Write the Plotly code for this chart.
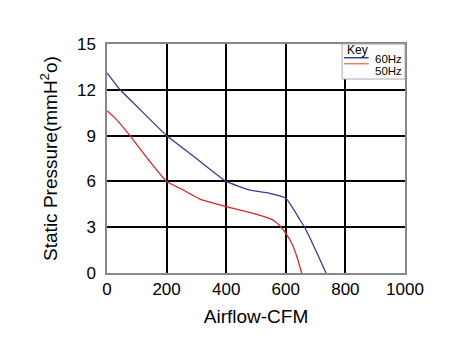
import plotly.graph_objects as go

x60 = [0, 44, 100, 200, 300, 400, 480, 536, 600, 648, 664, 700, 735]
y60 = [13.1, 12.0, 10.92, 9.0, 7.5, 6.0, 5.43, 5.26, 4.89, 3.47, 2.96, 1.5, 0.0]
x50 = [0, 28, 77, 140, 200, 250, 312, 400, 500, 553, 580, 600, 620, 640, 653]
y50 = [10.63, 10.13, 9.0, 7.4, 6.0, 5.5, 4.84, 4.35, 3.86, 3.51, 3.1, 2.6, 1.95, 0.9, 0.0]

xticks = [0, 200, 400, 600, 800, 1000]
yticks = [0, 3, 6, 9, 12, 15]

font = "Liberation Sans, Arial, sans-serif"
fig = go.Figure()
fig.add_trace(go.Scatter(x=x60, y=y60, mode="lines", name="60Hz",
                         line=dict(color="#3c3c8e", width=1.3, shape="spline", smoothing=0.4)))
fig.add_trace(go.Scatter(x=x50, y=y50, mode="lines", name="50Hz",
                         line=dict(color="#d8262a", width=1.3, shape="spline", smoothing=0.4)))

fig.update_layout(
    width=466, height=362,
    margin=dict(l=99, r=69, t=36, b=97),
    paper_bgcolor="white", plot_bgcolor="white",
    showlegend=False,
    font=dict(family=font, color="black"),
)
fig.update_xaxes(range=[0, 1000], tickvals=xticks, ticks="", showgrid=True, automargin=False,
                 gridcolor="black", gridwidth=2, zeroline=False,
                 showline=True, linecolor="#888", linewidth=1.5, mirror=True,
                 tickfont=dict(size=17), title=dict(text="Airflow-CFM", font=dict(size=19), standoff=12))
fig.update_yaxes(range=[0, 15], tickvals=yticks, ticks="", showgrid=True, automargin=False,
                 gridcolor="black", gridwidth=2, zeroline=False, ticklabelstandoff=6,
                 showline=True, linecolor="#888", linewidth=1.5, mirror=True,
                 tickfont=dict(size=17), title=dict(text="Static Pressure(mmH<sup>2</sup>o)", font=dict(size=19), standoff=14))

# legend box ("Key")
fig.add_shape(type="rect", xref="paper", yref="paper", x0=0.789, x1=1.0, y0=0.847, y1=1.0,
              line=dict(color="#aaa", width=1), fillcolor="white", layer="above")
fig.add_shape(type="line", xref="paper", yref="paper", x0=0.795, x1=0.878, y0=0.94, y1=0.94,
              line=dict(color="#3c3c8e", width=1.5), layer="above")
fig.add_shape(type="line", xref="paper", yref="paper", x0=0.795, x1=0.878, y0=0.914, y1=0.914,
              line=dict(color="#e8806a", width=1.5), layer="above")
fig.add_annotation(xref="paper", yref="paper", x=0.797, y=0.972, text="Key", showarrow=False,
                   xanchor="left", yanchor="middle", font=dict(size=12, family=font))
fig.add_annotation(xref="paper", yref="paper", x=0.998, y=0.936, text="60Hz", showarrow=False,
                   xanchor="right", yanchor="middle", font=dict(size=11.5, family=font))
fig.add_annotation(xref="paper", yref="paper", x=0.998, y=0.881, text="50Hz", showarrow=False,
                   xanchor="right", yanchor="middle", font=dict(size=11.5, family=font))

fig.write_html("out.html")
